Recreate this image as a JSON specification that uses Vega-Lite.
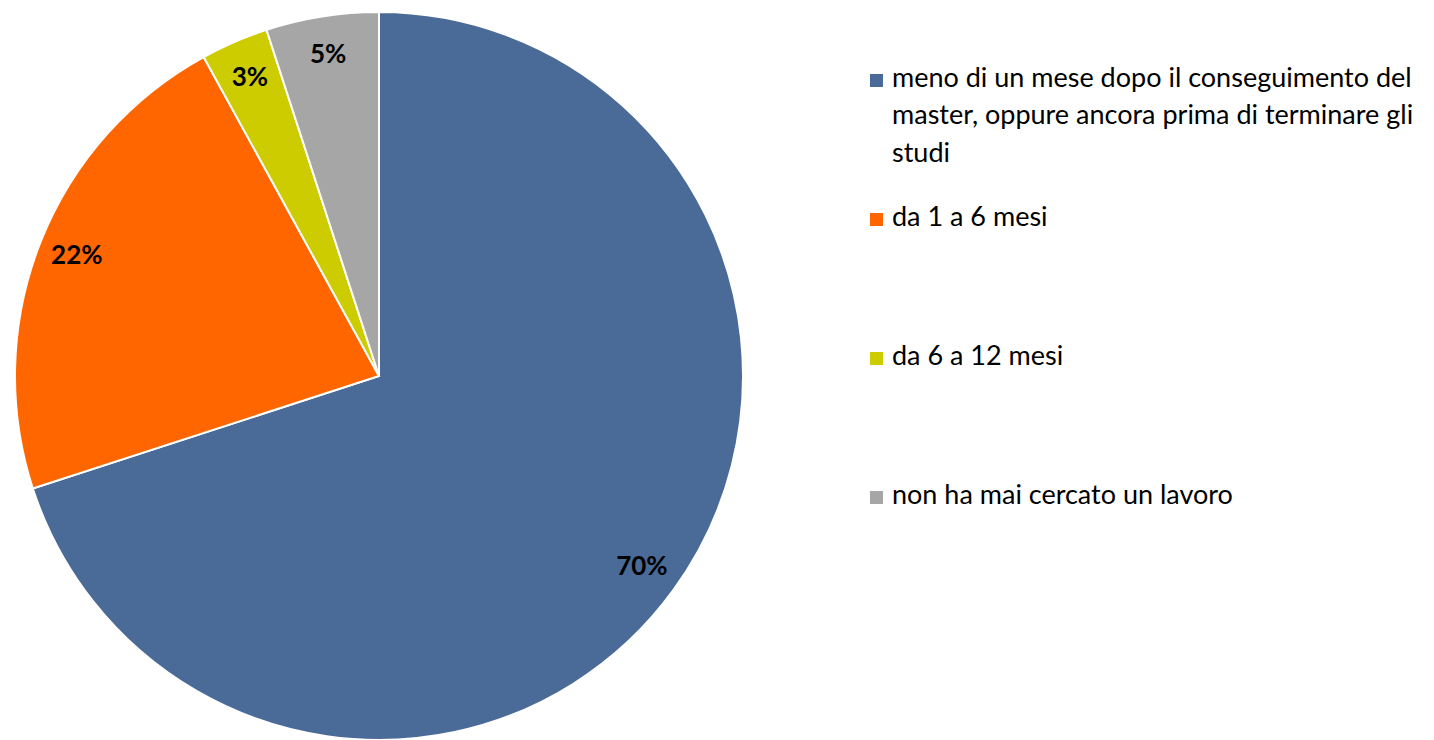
{
  "$schema": "https://vega.github.io/schema/vega-lite/v6.json",
  "autosize": {"type": "none"},
  "width": 728,
  "height": 728,
  "padding": {"left": 15, "top": 12, "right": 691, "bottom": 0},
  "background": "white",
  "config": {"view": {"stroke": null}},
  "data": {
    "values": [
      {"cat": "meno di un mese dopo il conseguimento del master, oppure ancora prima di terminare gli studi", "pct": 70, "label": "70%", "o": 1},
      {"cat": "da 1 a 6 mesi", "pct": 22, "label": "22%", "o": 2},
      {"cat": "da 6 a 12 mesi", "pct": 3, "label": "3%", "o": 3},
      {"cat": "non ha mai cercato un lavoro", "pct": 5, "label": "5%", "o": 4}
    ]
  },
  "encoding": {
    "theta": {"field": "pct", "type": "quantitative", "stack": true},
    "order": {"field": "o", "type": "quantitative"}
  },
  "layer": [
    {
      "mark": {"type": "arc", "outerRadius": 364, "stroke": "white", "strokeWidth": 2},
      "encoding": {
        "color": {
          "field": "cat",
          "type": "nominal",
          "scale": {
            "domain": [
              "meno di un mese dopo il conseguimento del master, oppure ancora prima di terminare gli studi",
              "da 1 a 6 mesi",
              "da 6 a 12 mesi",
              "non ha mai cercato un lavoro"
            ],
            "range": ["#4A6A97", "#FF6600", "#CCCC00", "#A6A6A6"]
          },
          "legend": {
            "orient": "none",
            "legendX": 848,
            "legendY": 55,
            "title": null,
            "padding": 0,
            "symbolType": "square",
            "symbolSize": 169,
            "symbolStrokeWidth": 0,
            "labelFont": "Lato",
            "labelFontSize": 27,
            "labelColor": "#000000",
            "labelOffset": 2,
            "labelLimit": 700,
            "labelBaseline": "top",
            "gridAlign": "all",
            "rowPadding": 36,
            "labelExpr": "datum.label == 'meno di un mese dopo il conseguimento del master, oppure ancora prima di terminare gli studi' ? ['meno di un mese dopo il conseguimento del', 'master, oppure ancora prima di terminare gli', 'studi'] : datum.label",
            "encoding": {
              "labels": {"lineHeight": {"value": 37.5}, "dy": {"value": -15}}
            }
          }
        }
      }
    },
    {
      "mark": {"type": "text", "radius": 325, "font": "Lato", "fontSize": 26, "fontWeight": "bold", "color": "#000000"},
      "encoding": {
        "text": {"field": "label"}
      }
    }
  ]
}
